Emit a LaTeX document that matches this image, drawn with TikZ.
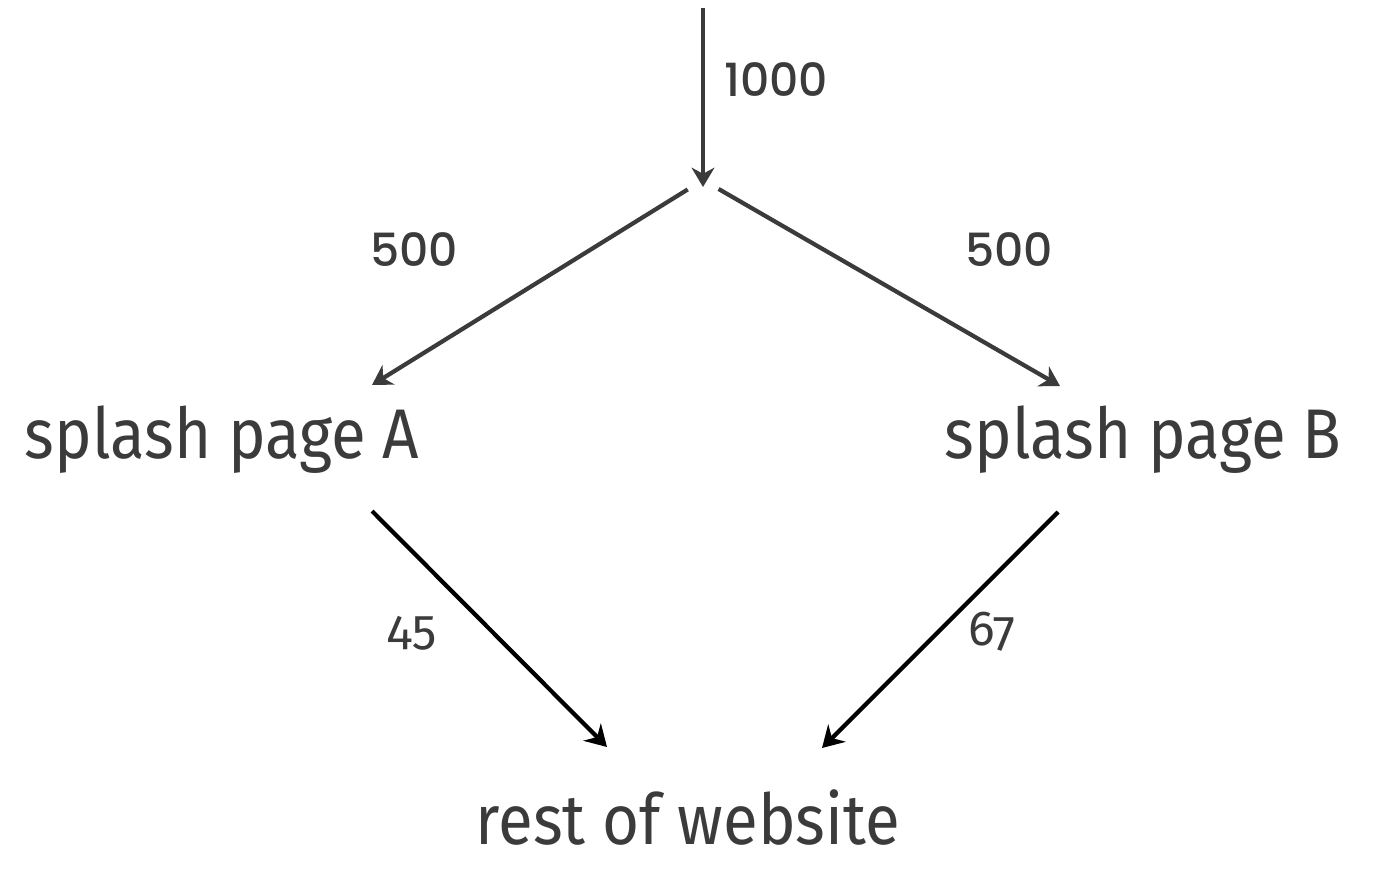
\documentclass[tikz,border=0pt]{standalone}
\usepackage{fontspec}
\setmainfont{Fira Sans}[Numbers=OldStyle]
\newfontfamily\pagefont{Fira Sans}[FakeStretch=0.905]
\newfontfamily\countfont{Poppins Medium}
\usetikzlibrary{positioning, arrows.meta}
\definecolor{ink}{HTML}{3B3B3B}
\tikzset{page/.style={text=ink, font=\pagefont\fontsize{40}{48}\selectfont, inner sep=0pt},
         count/.style={text=ink, font=\countfont\fontsize{26}{30}\selectfont, inner sep=0pt},
         visits/.style={text=ink, font=\fontsize{28}{34}\selectfont, inner sep=0pt},
         split/.style={draw=ink, line width=2.4pt, -{Stealth[length=11pt,width=13pt,inset=3.5pt]}},
         conv/.style={draw=black, line width=2.4pt, -{Stealth[length=12pt,width=14pt,inset=4pt]}},
        }

\begin{document}
\begin{tikzpicture}[x=0.02cm,y=-0.02cm]
        \useasboundingbox (0,0) rectangle (1388,888);
        \coordinate (in) at (703,8);
        \coordinate (fork) at (703,180);
        \node[page](pa)at(222,440){splash page A};
        \node[page](pb)at(1143,440){splash page B};
        \node[page](rest)at(688,818){rest of website};

        \draw[split](in)--([shift={(0,7)}]fork);
        \draw[split, shorten <=0.36cm](fork)--([shift={(150,-55)}]pa.center);
        \draw[split, shorten <=0.36cm](fork)--([shift={(-83,-54)}]pb.center);
        \draw[conv]([shift={(150,71)}]pa.center)--([shift={(-81,-71)}]rest.center);
        \draw[conv]([shift={(-85,72)}]pb.center)--([shift={(134,-70)}]rest.center);

        \node[count](total)at(776,80){1000};
        \node[count](ha)at(414,250){500};
        \node[count](hb)at(1009,250){500};
        \node[visits](va)at(412,633){45};
        \node[visits](vb)at(992,632){67};
\end{tikzpicture}
\end{document}
